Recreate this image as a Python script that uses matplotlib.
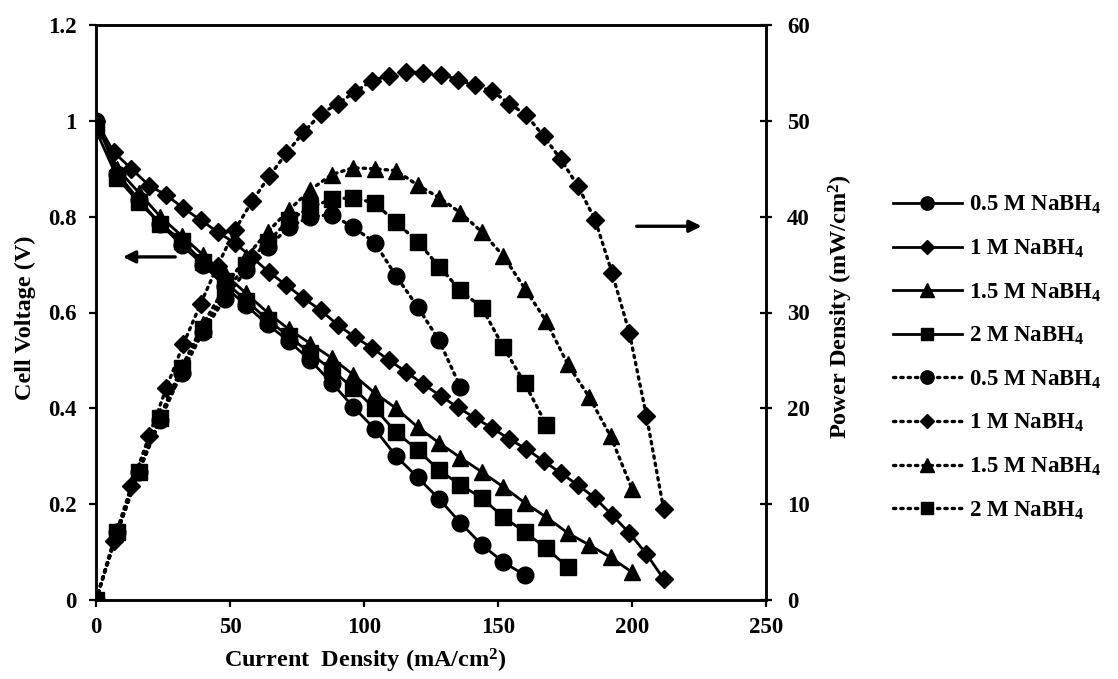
import matplotlib
matplotlib.use("Agg")
import matplotlib.pyplot as plt

plt.rcParams['font.family'] = ['Liberation Serif', 'DejaVu Serif']
plt.rcParams['font.weight'] = 'bold'
plt.rcParams['mathtext.fontset'] = 'custom'
plt.rcParams['mathtext.rm'] = 'Liberation Serif:bold'
plt.rcParams['mathtext.bf'] = 'Liberation Serif:bold'
plt.rcParams['mathtext.it'] = 'Liberation Serif:bold'

# ---- data ----
i_05_v = [0, 8, 16, 24, 32, 40, 48, 56, 64, 72, 80, 88, 96, 104, 112, 120, 128, 136, 144, 152, 160]
v_05 = [1.0, 0.89, 0.835, 0.785, 0.74, 0.70, 0.655, 0.615, 0.575, 0.54, 0.50, 0.453, 0.403, 0.357,
        0.30, 0.256, 0.211, 0.161, 0.115, 0.079, 0.052]
i_05_p = [0, 8, 16, 24, 32, 40, 48, 56, 64, 72, 80, 88, 96, 104, 112, 120, 128, 136]
p_05 = [0, 7.1, 13.4, 18.8, 23.7, 28.0, 31.4, 34.4, 36.8, 38.9, 40.0, 40.2, 38.9, 37.3, 33.8, 30.6, 27.1, 22.2]

i_1 = [0, 6.6, 13.2, 19.8, 26.2, 32.6, 39.0, 45.4, 51.8, 58.2, 64.6, 71.0, 77.4, 83.8, 90.2, 96.6,
       103.0, 109.4, 115.8, 122.2, 128.6, 135.0, 141.4, 147.8, 154.2, 160.6, 167.0, 173.4, 179.8,
       186.2, 192.6, 199.0, 205.4, 211.8]
v_1 = [1.0, 0.935, 0.90, 0.865, 0.845, 0.818, 0.793, 0.768, 0.745, 0.715, 0.684, 0.657, 0.63, 0.605,
       0.574, 0.549, 0.526, 0.50, 0.476, 0.45, 0.426, 0.402, 0.38, 0.359, 0.336, 0.315, 0.29, 0.265,
       0.24, 0.213, 0.177, 0.14, 0.096, 0.044]
p_1 = [0, 6.2, 11.9, 17.1, 22.1, 26.7, 30.9, 34.9, 38.6, 41.6, 44.2, 46.6, 48.8, 50.7, 51.8, 53.0,
       54.2, 54.7, 55.1, 55.0, 54.8, 54.3, 53.7, 53.1, 51.8, 50.6, 48.4, 46.0, 43.2, 39.7, 34.1, 27.9,
       19.2, 9.5]

i_15 = [0, 8, 16, 24, 32, 40, 48, 56, 64, 72, 80, 88, 96, 104, 112, 120, 128, 136, 144, 152, 160,
        168, 176, 184, 192, 200]
v_15 = [1.0, 0.90, 0.85, 0.80, 0.76, 0.72, 0.68, 0.64, 0.60, 0.565, 0.535, 0.505, 0.47, 0.432, 0.40,
        0.361, 0.328, 0.297, 0.267, 0.236, 0.203, 0.173, 0.14, 0.115, 0.089, 0.058]
p_15 = [0, 7.2, 13.6, 19.2, 24.3, 28.8, 32.6, 35.8, 38.4, 40.7, 42.8, 44.4, 45.1, 45.0, 44.8, 43.3,
        42.0, 40.4, 38.4, 35.9, 32.5, 29.1, 24.6, 21.2, 17.1, 11.6]

i_2_v = [0, 8, 16, 24, 32, 40, 48, 56, 64, 72, 80, 88, 96, 104, 112, 120, 128, 136, 144, 152, 160, 168, 176]
v_2 = [0.98, 0.88, 0.83, 0.785, 0.75, 0.705, 0.665, 0.625, 0.585, 0.55, 0.515, 0.48, 0.442, 0.40,
       0.35, 0.313, 0.271, 0.24, 0.213, 0.173, 0.142, 0.108, 0.069]
i_2_p = [0, 8, 16, 24, 32, 40, 48, 56, 64, 72, 80, 88, 96, 104, 112, 120, 128, 136, 144, 152, 160, 168]
p_2 = [0, 7.1, 13.4, 19.0, 24.2, 28.3, 32.0, 35.0, 37.4, 39.6, 41.0, 41.8, 42.0, 41.4, 39.4, 37.4,
       34.8, 32.3, 30.5, 26.4, 22.6, 18.3]

labels = ['0.5 M NaBH$_{4}$', '1 M NaBH$_{4}$', '1.5 M NaBH$_{4}$', '2 M NaBH$_{4}$']
x_ticks = [0, 50, 100, 150, 200, 250]
v_ticks = [0, 0.2, 0.4, 0.6, 0.8, 1, 1.2]
v_ticklabels = ['0', '0.2', '0.4', '0.6', '0.8', '1', '1.2']
p_ticks = [0, 10, 20, 30, 40, 50, 60]

# ---- figure ----
W, H = 1118, 679
fig = plt.figure(figsize=(W / 100, H / 100), dpi=100)
ax1 = fig.add_axes([96 / W, 79 / H, 670 / W, 575 / H])
ax2 = ax1.twinx()

msz = {'o': 12, 'D': 8.8, '^': 12, 's': 11.5}
dot = (0, (0.7, 1.5))

series_v = [(i_05_v, v_05, 'o'), (i_1, v_1, 'D'), (i_15, v_15, '^'), (i_2_v, v_2, 's')]
series_p = [(i_05_p, p_05, 'o'), (i_1, p_1, 'D'), (i_15, p_15, '^'), (i_2_p, p_2, 's')]

handles = []
for (x, y, m), lab in zip(series_v, labels):
    h, = ax1.plot(x, y, color='black', lw=2.0, marker=m, ms=msz[m], mec='black', mfc='black', label=lab)
    handles.append(h)
for (x, y, m), lab in zip(series_p, labels):
    h, = ax2.plot(x, y, color='black', lw=2.4, ls=dot, dash_capstyle='round', marker=m, ms=msz[m],
                  mec='black', mfc='black', label=lab)
    handles.append(h)

ax1.set_xlim(0, 250)
ax1.set_ylim(0, 1.2)
ax2.set_ylim(0, 60)
ax1.set_xticks(x_ticks)
ax1.set_yticks(v_ticks)
ax1.set_yticklabels(v_ticklabels)
ax2.set_yticks(p_ticks)

for ax in (ax1, ax2):
    for s in ax.spines.values():
        s.set_linewidth(1.8)
        s.set_color('black')
ax1.tick_params(axis='x', direction='out', length=5, width=1.6, labelsize=16.5, pad=7)
ax1.tick_params(axis='y', direction='out', length=5, width=1.6, labelsize=16.5, pad=9)
ax2.tick_params(axis='y', direction='inout', length=8, width=1.6, labelsize=16.5, pad=11)

ax1.set_xlabel('Current  Density (mA/cm$^{2}$)', fontsize=17.5, fontweight='bold')
ax1.set_ylabel('Cell Voltage (V)', fontsize=17.5, fontweight='bold')
ax2.set_ylabel('Power Density (mW/cm$^{2}$)', fontsize=17.5, fontweight='bold')
ax1.xaxis.set_label_coords((365 - 96) / 670, -(647 - 600) / 575)
ax1.yaxis.set_label_coords(-(96 - 36) / 670, 0.49)
ax2.yaxis.set_label_coords((827 - 96) / 670, 0.51)

# arrows
ax1.annotate('', xy=(9, 0.716), xytext=(30.6, 0.716),
             arrowprops=dict(arrowstyle='-|>', color='black', lw=2.4, mutation_scale=18))
ax1.annotate('', xy=(227, 0.78), xytext=(200.7, 0.78),
             arrowprops=dict(arrowstyle='-|>', color='black', lw=2.4, mutation_scale=18))

fig.legend(handles=handles, loc='upper left', bbox_to_anchor=(893 / W, 1 - 194 / H), frameon=False,
           fontsize=16.5, handlelength=3.0, markerscale=0.8, labelspacing=0.93, handletextpad=0.3,
           borderpad=0, borderaxespad=0)

fig.savefig('out.png', dpi=100)
